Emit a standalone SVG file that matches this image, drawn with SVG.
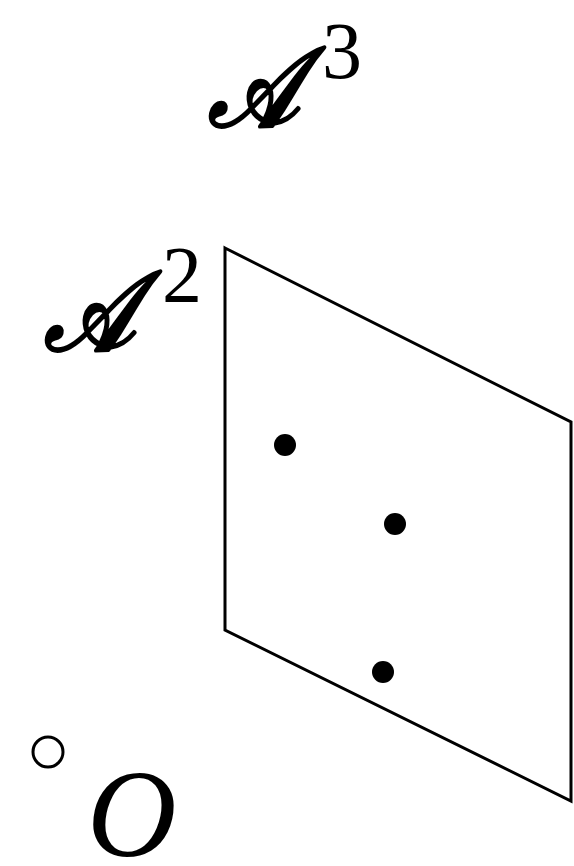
<svg xmlns="http://www.w3.org/2000/svg" width="574" height="866" viewBox="0 0 574 866">
<style>
.lbl{font-family:"DejaVu Serif","Liberation Serif",serif;fill:#000}
.scr{font-style:italic;font-size:112px;stroke:#000;stroke-width:4;stroke-linejoin:round}
.sup{font-family:"Liberation Serif",serif;font-size:80px;fill:#000}
.pt{fill:#000}
</style>
<rect width="574" height="866" fill="#fff"/>
<g id="plane">
<polygon points="225,248 571,422 571,801 225,630" fill="none" stroke="#000" stroke-width="3" stroke-linejoin="miter"/>
</g>
<g id="points">
<circle class="pt" cx="285" cy="445" r="11"/>
<circle class="pt" cx="395" cy="524" r="11"/>
<circle class="pt" cx="383" cy="672" r="11"/>
</g>
<g id="origin">
<circle cx="48" cy="752" r="15" fill="#fff" stroke="#000" stroke-width="3"/>
<text x="87" y="856" font-family="Liberation Serif, serif" font-style="italic" font-size="124" fill="#000">O</text>
</g>
<g id="label-A3">
<text class="lbl scr" transform="translate(208,126) scale(0.86,1)">𝒜</text>
<text class="sup" x="322" y="78">3</text>
</g>
<g id="label-A2">
<text class="lbl scr" transform="translate(44,350) scale(0.86,1)">𝒜</text>
<text class="sup" x="162" y="302">2</text>
</g>
</svg>
